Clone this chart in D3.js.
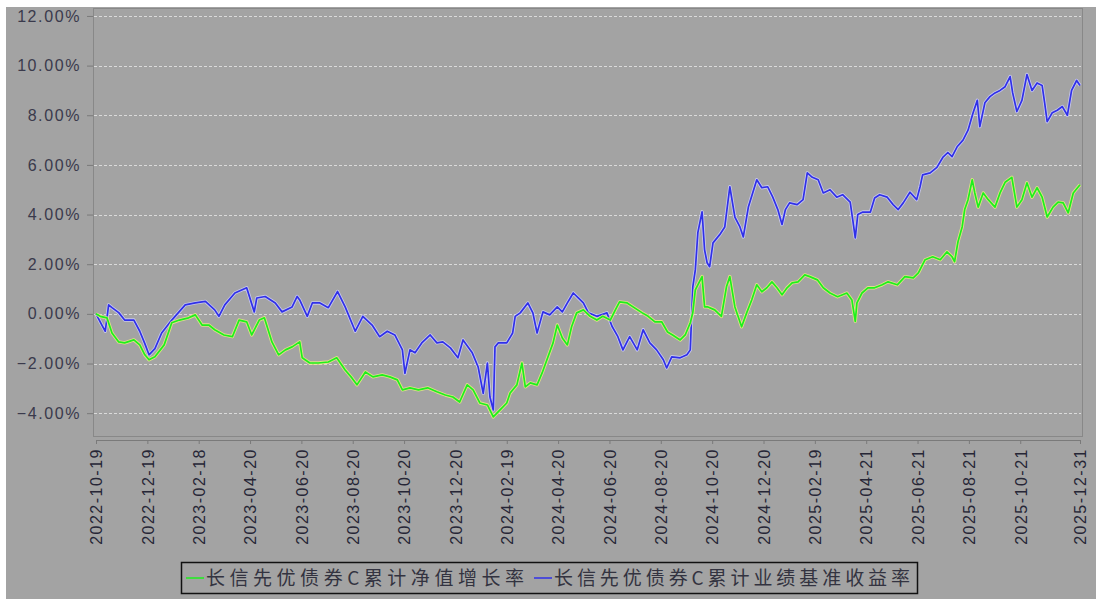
<!DOCTYPE html>
<html>
<head>
<meta charset="utf-8">
<script src="https://cdn.jsdelivr.net/npm/d3@7"></script>
<style>
  html, body { margin: 0; padding: 0; background: #ffffff; }
  svg { display: block; }
</style>
</head>
<body>
<div id="chart"></div>
<script>
// ---------------------------------------------------------------------------
// DATA (percent)
// ---------------------------------------------------------------------------
const seriesNames = ["长信先优债券C累计净值增长率", "长信先优债券C累计业绩基准收益率"];

const tickDates = ["2022-10-19", "2022-12-19", "2023-02-18", "2023-04-20", "2023-06-20",
  "2023-08-20", "2023-10-20", "2023-12-20", "2024-02-19", "2024-04-20", "2024-06-20",
  "2024-08-20", "2024-10-20", "2024-12-20", "2025-02-19", "2025-04-21", "2025-06-21",
  "2025-08-21", "2025-10-21", "2025-12-31"];

const yTicks = [-4, -2, 0, 2, 4, 6, 8, 10, 12];

// fund NAV growth (green)
const navDates = ["2022-10-19", "2022-10-24", "2022-11-01", "2022-11-07", "2022-11-15", "2022-11-22",
  "2022-12-03", "2022-12-10", "2022-12-16", "2022-12-21", "2022-12-28", "2023-01-08", "2023-01-17",
  "2023-01-26", "2023-02-06", "2023-02-14", "2023-02-22", "2023-03-02", "2023-03-09", "2023-03-20",
  "2023-03-30", "2023-04-07", "2023-04-16", "2023-04-22", "2023-05-01", "2023-05-07", "2023-05-16",
  "2023-05-24", "2023-06-01", "2023-06-09", "2023-06-18", "2023-06-21", "2023-06-30", "2023-07-10",
  "2023-07-22", "2023-08-01", "2023-08-11", "2023-08-19", "2023-08-25", "2023-09-04", "2023-09-13",
  "2023-09-24", "2023-10-03", "2023-10-12", "2023-10-18", "2023-10-27", "2023-11-06", "2023-11-17",
  "2023-11-28", "2023-12-08", "2023-12-17", "2023-12-25", "2024-01-03", "2024-01-10", "2024-01-18",
  "2024-01-27", "2024-02-03", "2024-02-11", "2024-02-19", "2024-02-23", "2024-03-02", "2024-03-08",
  "2024-03-12", "2024-03-18", "2024-03-26", "2024-04-01", "2024-04-08", "2024-04-14", "2024-04-19",
  "2024-04-25", "2024-05-01", "2024-05-06", "2024-05-12", "2024-05-20", "2024-05-28", "2024-06-05",
  "2024-06-12", "2024-06-21", "2024-06-27", "2024-07-02", "2024-07-11", "2024-07-18", "2024-07-29",
  "2024-08-05", "2024-08-13", "2024-08-21", "2024-08-28", "2024-09-03", "2024-09-12", "2024-09-18",
  "2024-09-24", "2024-09-27", "2024-09-30", "2024-10-08", "2024-10-11", "2024-10-15", "2024-10-23",
  "2024-10-31", "2024-11-06", "2024-11-10", "2024-11-16", "2024-11-24", "2024-11-30", "2024-12-06",
  "2024-12-12", "2024-12-18", "2024-12-24", "2024-12-30", "2025-01-05", "2025-01-11", "2025-01-17",
  "2025-01-23", "2025-01-30", "2025-02-07", "2025-02-13", "2025-02-22", "2025-03-01", "2025-03-09",
  "2025-03-18", "2025-03-29", "2025-04-04", "2025-04-08", "2025-04-10", "2025-04-16", "2025-04-23",
  "2025-05-01", "2025-05-10", "2025-05-17", "2025-05-28", "2025-06-06", "2025-06-16", "2025-06-22",
  "2025-06-30", "2025-07-09", "2025-07-18", "2025-07-26", "2025-08-01", "2025-08-04", "2025-08-08",
  "2025-08-13", "2025-08-16", "2025-08-20", "2025-08-25", "2025-08-28", "2025-09-01", "2025-09-07",
  "2025-09-13", "2025-09-21", "2025-09-27", "2025-10-03", "2025-10-11", "2025-10-17", "2025-10-23",
  "2025-10-29", "2025-11-04", "2025-11-10", "2025-11-16", "2025-11-22", "2025-11-29", "2025-12-05",
  "2025-12-11", "2025-12-17", "2025-12-23", "2025-12-31"];
const navValues = [0.0, -0.1, -0.16, -0.77, -1.13, -1.17,
  -1.05, -1.25, -1.65, -1.85, -1.73, -1.25, -0.36,
  -0.25, -0.16, -0.04, -0.45, -0.45, -0.64, -0.85,
  -0.92, -0.25, -0.32, -0.85, -0.25, -0.16, -1.13,
  -1.65, -1.45, -1.33, -1.13, -1.77, -1.98, -1.98,
  -1.94, -1.77, -2.26, -2.58, -2.86, -2.34, -2.54,
  -2.46, -2.54, -2.66, -3.06, -2.98, -3.06, -2.98,
  -3.14, -3.27, -3.35, -3.55, -2.86, -3.06, -3.59,
  -3.67, -4.15, -3.87, -3.59, -3.19, -2.86, -1.98,
  -2.94, -2.78, -2.86, -2.38, -1.73, -1.17, -0.45,
  -0.97, -1.25, -0.52, 0.04, 0.16, -0.1, -0.25,
  -0.1, -0.25, 0.16, 0.48, 0.44, 0.28, 0.04,
  -0.1, -0.32, -0.32, -0.73, -0.85, -1.05, -0.85,
  -0.36, 0.04, 0.97, 1.5, 0.28, 0.28, 0.16,
  -0.1, 1.09, 1.5, 0.28, -0.52, 0.04, 0.56,
  1.17, 0.89, 1.05, 1.29, 1.05, 0.77, 1.05,
  1.25, 1.29, 1.57, 1.5, 1.37, 1.05, 0.84,
  0.69, 0.84, 0.56, -0.3, 0.44, 0.84, 1.05,
  1.05, 1.17, 1.29, 1.17, 1.5, 1.45, 1.65,
  2.18, 2.3, 2.18, 2.5, 2.3, 2.1, 2.9,
  3.5, 4.2, 4.6, 5.4, 4.87, 4.3, 4.87,
  4.6, 4.3, 4.87, 5.3, 5.5, 4.3, 4.6,
  5.28, 4.7, 5.08, 4.7, 3.9, 4.3, 4.5,
  4.47, 4.07, 4.87, 5.2];

// performance benchmark (blue)
const benchDates = ["2022-10-19", "2022-10-26", "2022-10-30", "2022-11-03", "2022-11-07", "2022-11-15",
  "2022-11-22", "2022-12-03", "2022-12-10", "2022-12-16", "2022-12-21", "2022-12-28", "2023-01-05",
  "2023-01-17", "2023-02-02", "2023-02-14", "2023-02-26", "2023-03-09", "2023-03-14", "2023-03-21",
  "2023-04-02", "2023-04-16", "2023-04-25", "2023-04-28", "2023-05-08", "2023-05-20", "2023-05-28",
  "2023-06-09", "2023-06-15", "2023-06-18", "2023-06-27", "2023-07-03", "2023-07-12", "2023-07-22",
  "2023-08-02", "2023-08-11", "2023-08-23", "2023-09-01", "2023-09-12", "2023-09-21", "2023-09-30",
  "2023-10-09", "2023-10-18", "2023-10-21", "2023-10-27", "2023-11-02", "2023-11-10", "2023-11-20",
  "2023-11-28", "2023-12-05", "2023-12-14", "2023-12-23", "2023-12-29", "2024-01-09", "2024-01-16",
  "2024-01-22", "2024-01-27", "2024-01-30", "2024-02-03", "2024-02-05", "2024-02-09", "2024-02-19",
  "2024-02-26", "2024-02-29", "2024-03-06", "2024-03-15", "2024-03-21", "2024-03-26", "2024-04-02",
  "2024-04-10", "2024-04-19", "2024-04-25", "2024-05-01", "2024-05-08", "2024-05-14", "2024-05-20",
  "2024-05-26", "2024-06-05", "2024-06-17", "2024-06-23", "2024-06-30", "2024-07-06", "2024-07-14",
  "2024-07-23", "2024-07-30", "2024-08-07", "2024-08-15", "2024-08-23", "2024-08-27", "2024-09-02",
  "2024-09-12", "2024-09-20", "2024-09-24", "2024-09-27", "2024-09-30", "2024-10-03", "2024-10-08",
  "2024-10-11", "2024-10-14", "2024-10-17", "2024-10-21", "2024-10-29", "2024-11-04", "2024-11-10",
  "2024-11-16", "2024-11-22", "2024-11-26", "2024-12-02", "2024-12-12", "2024-12-18", "2024-12-25",
  "2024-12-31", "2025-01-06", "2025-01-11", "2025-01-15", "2025-01-20", "2025-01-29", "2025-02-05",
  "2025-02-10", "2025-02-16", "2025-02-23", "2025-03-01", "2025-03-09", "2025-03-17", "2025-03-24",
  "2025-04-02", "2025-04-05", "2025-04-08", "2025-04-11", "2025-04-17", "2025-04-26", "2025-05-01",
  "2025-05-07", "2025-05-16", "2025-05-23", "2025-05-29", "2025-06-04", "2025-06-12", "2025-06-20",
  "2025-06-24", "2025-06-27", "2025-07-06", "2025-07-14", "2025-07-21", "2025-07-27", "2025-08-01",
  "2025-08-07", "2025-08-14", "2025-08-20", "2025-08-26", "2025-08-31", "2025-09-03", "2025-09-09",
  "2025-09-15", "2025-09-21", "2025-09-27", "2025-10-03", "2025-10-09", "2025-10-12", "2025-10-17",
  "2025-10-23", "2025-10-29", "2025-11-04", "2025-11-10", "2025-11-16", "2025-11-19", "2025-11-22",
  "2025-11-28", "2025-12-04", "2025-12-10", "2025-12-16", "2025-12-21", "2025-12-27", "2025-12-31"];
const benchValues = [0.0, -0.45, -0.7, 0.36, 0.25, 0.05,
  -0.25, -0.25, -0.7, -1.2, -1.65, -1.4, -0.77,
  -0.25, 0.36, 0.44, 0.5, 0.16, -0.1, 0.36,
  0.84, 1.05, 0.08, 0.64, 0.7, 0.44, 0.08,
  0.28, 0.7, 0.56, -0.1, 0.44, 0.44, 0.25,
  0.9, 0.28, -0.7, -0.1, -0.45, -0.92, -0.7,
  -0.85, -1.45, -2.4, -1.45, -1.57, -1.17, -0.85,
  -1.17, -1.13, -1.37, -1.77, -1.05, -1.57, -2.14,
  -3.2, -1.98, -3.35, -3.87, -1.33, -1.17, -1.17,
  -0.77, -0.1, 0.04, 0.44, 0.04, -0.77, 0.08,
  -0.04, 0.28, 0.08, 0.44, 0.84, 0.64, 0.44,
  0.04, -0.1, 0.04, -0.5, -0.92, -1.45, -0.92,
  -1.45, -0.64, -1.17, -1.45, -1.85, -2.18, -1.73,
  -1.77, -1.65, -1.45, 1.09, 1.77, 3.27, 4.11,
  2.58, 2.06, 1.9, 2.86, 3.19, 3.5, 5.12,
  3.9, 3.5, 3.1, 4.3, 5.4, 5.08, 5.12,
  4.7, 4.2, 3.6, 4.2, 4.47, 4.4, 4.6,
  5.68, 5.5, 5.4, 4.87, 5.0, 4.7, 4.8,
  4.5, 3.8, 3.06, 4.0, 4.1, 4.1, 4.67,
  4.8, 4.7, 4.4, 4.2, 4.47, 4.9, 4.6,
  5.12, 5.6, 5.68, 5.9, 6.3, 6.5, 6.33,
  6.73, 7.0, 7.4, 8.1, 8.6, 7.54, 8.5,
  8.75, 8.9, 9.0, 9.15, 9.56, 8.9, 8.15,
  8.6, 9.64, 9.0, 9.3, 9.2, 8.5, 7.74,
  8.1, 8.2, 8.35, 8.0, 9.0, 9.4, 9.2];

// ---------------------------------------------------------------------------
// SETUP
// ---------------------------------------------------------------------------
const W = 1096, H = 599;
const plot = { left: 93, right: 1082, top: 8, bottom: 436 };
const parse = d3.utcParse("%Y-%m-%d");

const svg = d3.select("#chart").append("svg")
  .attr("width", W)
  .attr("height", H);

// gray panel
svg.append("rect")
  .attr("x", 6).attr("y", 7)
  .attr("width", W - 6).attr("height", H - 7)
  .attr("fill", "#a3a3a3");

// scales
const x = d3.scaleUtc()
  .domain([parse(tickDates[0]), parse(tickDates[tickDates.length - 1])])
  .range([96, 1080]);

const y = d3.scaleLinear()
  .domain([-4.92, 12.32])
  .range([plot.bottom, plot.top]);

// gridlines
svg.append("g")
  .selectAll("line")
  .data(yTicks)
  .join("line")
  .attr("x1", plot.left + 1)
  .attr("x2", plot.right - 1)
  .attr("y1", d => Math.round(y(d)) + 0.5)
  .attr("y2", d => Math.round(y(d)) + 0.5)
  .attr("stroke", "#dadada")
  .attr("stroke-width", 1)
  .attr("stroke-dasharray", "3,2");

// plot frame
svg.append("rect")
  .attr("x", plot.left + 0.5).attr("y", plot.top + 0.5)
  .attr("width", plot.right - plot.left).attr("height", plot.bottom - plot.top)
  .attr("fill", "none")
  .attr("stroke", "#888888");

// y axis
const yAxis = d3.axisLeft(y)
  .tickValues(yTicks)
  .tickSize(6)
  .tickPadding(6)
  .tickFormat(d => d.toFixed(2).replace("-", "\u2212") + "%");

const gy = svg.append("g")
  .attr("transform", `translate(${plot.left},0)`)
  .call(yAxis);
gy.select(".domain").remove();
gy.selectAll(".tick line").attr("stroke", "#7a7a7a");
gy.selectAll("text")
  .attr("fill", "#3a3a4c")
  .style("font-family", "'Liberation Sans', Arial, sans-serif")
  .style("font-size", "16px")
  .style("letter-spacing", "1.6px");

// x axis
const xAxis = d3.axisBottom(x)
  .tickValues(tickDates.map(parse))
  .tickSize(4)
  .tickSizeOuter(0)
  .tickFormat(d3.utcFormat("%Y-%m-%d"));

const gx = svg.append("g")
  .attr("transform", "translate(0,440)")
  .call(xAxis);
gx.select(".domain").attr("stroke", "#7a7a7a");
gx.selectAll(".tick line").attr("stroke", "#7a7a7a");
gx.selectAll("text")
  .attr("transform", "rotate(-90)")
  .attr("text-anchor", "end")
  .attr("x", -8)
  .attr("y", 0)
  .attr("dy", "0.36em")
  .attr("fill", "#262636")
  .style("font-family", "'Liberation Sans', Arial, sans-serif")
  .style("font-size", "16px")
  .style("letter-spacing", "1.5px");

// ---------------------------------------------------------------------------
// LINES
// ---------------------------------------------------------------------------
const nav = navDates.map((d, i) => ({ date: parse(d), value: navValues[i] }));
const bench = benchDates.map((d, i) => ({ date: parse(d), value: benchValues[i] }));

const line = d3.line()
  .x(d => x(d.date))
  .y(d => y(d.value));

const series = [
  { data: bench, color: "#3030e8", halo: "#d0d0ff" },
  { data: nav, color: "#1cf01c", halo: "#eef080" }
];

series.forEach(s => {
  svg.append("path")
    .datum(s.data)
    .attr("fill", "none")
    .attr("stroke", s.halo)
    .attr("stroke-opacity", 0.8)
    .attr("stroke-width", 3.4)
    .attr("stroke-linejoin", "round")
    .attr("d", line);
  svg.append("path")
    .datum(s.data)
    .attr("fill", "none")
    .attr("stroke", s.color)
    .attr("stroke-width", 1.7)
    .attr("stroke-linejoin", "round")
    .attr("d", line);
});

// ---------------------------------------------------------------------------
// LEGEND
// ---------------------------------------------------------------------------
const legend = svg.append("g");
legend.append("rect")
  .attr("x", 181.5).attr("y", 562.5)
  .attr("width", 736).attr("height", 31)
  .attr("fill", "none")
  .attr("stroke", "#111111")
  .attr("stroke-width", 1.5);

const legendItems = [
  { name: seriesNames[0], color: "#1cf01c", x: 186, w: 318 },
  { name: seriesNames[1], color: "#3030e8", x: 534, w: 356 }
];

legendItems.forEach(item => {
  legend.append("line")
    .attr("x1", item.x).attr("x2", item.x + 18)
    .attr("y1", 578).attr("y2", 578)
    .attr("stroke", item.color)
    .attr("stroke-width", 1.5);
  legend.append("text")
    .attr("x", item.x + 20)
    .attr("y", 585)
    .attr("textLength", item.w)
    .attr("lengthAdjust", "spacing")
    .attr("fill", "#333340")
    .style("font-family", "'Noto Sans CJK SC', sans-serif")
    .style("font-size", "19px")
    .text(item.name);
});
</script>
</body>
</html>
